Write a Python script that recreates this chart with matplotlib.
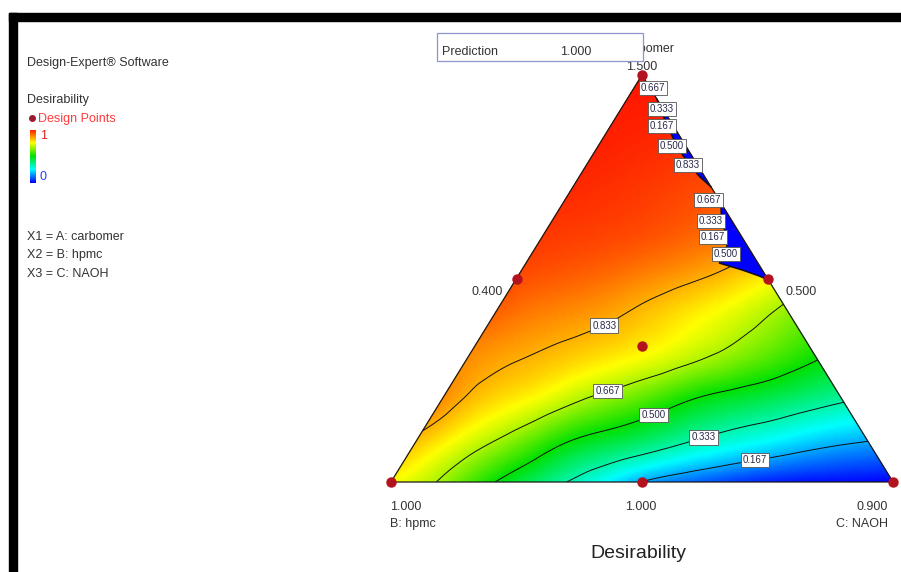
import numpy as np
import matplotlib
matplotlib.use('Agg')
import matplotlib.pyplot as plt
import matplotlib.tri as mtri
from matplotlib.colors import LinearSegmentedColormap
from matplotlib.patches import Rectangle
from matplotlib.lines import Line2D

plt.rcParams['font.family'] = ['Liberation Sans', 'DejaVu Sans']

# desirability, one row per carbomer level (pseudo units 0..1)
# inside a row the NAOH share goes 0, 0.1, 0.2 ... and hpmc is the rest
carbomer = [0.0, 0.1, 0.2, 0.3, 0.4, 0.5, 0.6, 0.7, 0.8, 0.9, 1.0]
desir_rows = [
    [0.75, 0.655, 0.51, 0.39, 0.28, 0.165, 0.10, 0.05, 0.02, 0.01, 0.0],
    [0.815, 0.72, 0.62, 0.505, 0.435, 0.367, 0.30, 0.25, 0.20, 0.167],
    [0.87, 0.79, 0.73, 0.65, 0.58, 0.495, 0.44, 0.39, 0.34],
    [0.87, 0.835, 0.80, 0.76, 0.71, 0.645, 0.575, 0.50],
    [0.91, 0.875, 0.85, 0.81, 0.76, 0.70, 0.62],
    [0.94, 0.92, 0.895, 0.86, 0.82, 0.76],
    [0.96, 0.95, 0.935, 0.91, 0.87],
    [0.975, 0.965, 0.95, 0.93],
    [0.985, 0.975, 0.96],
    [0.99, 0.985],
    [1.0],
]

# design points (A carbomer, C NAOH), simplex centroid
dp_a = [1.0, 0.0, 0.0, 0.5, 0.5, 0.0, 1 / 3]
dp_c = [0.0, 0.0, 1.0, 0.0, 0.5, 0.5, 1 / 3]

# zero-desirability slivers on the A-C edge: carbomer level and depth in from the edge
strip1_a = [0.94, 0.90, 0.86, 0.82, 0.78, 0.75, 0.725]
strip1_w = [0.0, 0.008, 0.014, 0.018, 0.016, 0.010, 0.0]
strip2_a = [0.686, 0.656, 0.619, 0.582, 0.550, 0.538, 0.521, 0.506, 0.496]
strip2_w = [0.0, 0.014, 0.026, 0.039, 0.066, 0.077, 0.040, 0.013, 0.0]

contour_levels = [0.167, 0.333, 0.500, 0.667, 0.833]
label_pos = [(0.422, 0.391), (0.426, 0.243), (0.520, 0.174), (0.620, 0.120), (0.723, 0.069)]

# crowded labels along the edge
edge_labels = ['0.667', '0.333', '0.167', '0.500', '0.833', '0.667', '0.333', '0.167', '0.500']
edge_lab_xy = [(0.522, 0.968), (0.540, 0.916), (0.540, 0.875), (0.560, 0.826), (0.592, 0.779),
               (0.633, 0.693), (0.637, 0.641), (0.641, 0.602), (0.667, 0.560)]

W, H = 901, 572
def fx(px): return px / W
def fy(py): return 1 - py / H

cmap = LinearSegmentedColormap.from_list(
    'desir', ['#0000ff', '#00ffff', '#00e000', '#ffff00', '#ff1500'])
lab_box = dict(boxstyle='square,pad=0.22', fc='white', ec='#555555', lw=0.6)

fig = plt.figure(figsize=(W / 100, H / 100), dpi=100)
ax = fig.add_axes([fx(391), fy(482), 502 / W, 407 / H])
ax.set_xlim(0, 1)
ax.set_ylim(0, 1)
ax.axis('off')

# ternary -> plot coords: x = C + A/2, y = A
xs, ys, zs = [], [], []
for a, row in zip(carbomer, desir_rows):
    for k, d in enumerate(row):
        xs.append(k * 0.1 + a / 2)
        ys.append(a)
        zs.append(d)
tri = mtri.Triangulation(xs, ys)
tri_f, z_f = mtri.UniformTriRefiner(tri).refine_field(np.array(zs), subdiv=4)
z_f = np.clip(z_f, 0, 1)

ax.tripcolor(tri_f, z_f, cmap=cmap, vmin=0, vmax=1, shading='gouraud', zorder=1)
cs = ax.tricontour(tri_f, z_f, levels=contour_levels, colors='#111111', linewidths=0.7, zorder=2)
labs = ax.clabel(cs, fmt='%.3f', fontsize=7, manual=label_pos, inline=False)
for t in labs:
    t.set_rotation(0)
    t.set_color('#2a2a4a')
    t.set_zorder(5)
    t.set_bbox(lab_box)

for sa, sw in [(strip1_a, strip1_w), (strip2_a, strip2_w)]:
    sa = np.array(sa)
    edge = 1 - sa / 2
    inner = edge - np.array(sw)
    ax.fill_betweenx(sa, inner, edge, color='#0000ff', lw=0, zorder=3)
    ax.plot(inner, sa, color='#111111', lw=1.1, zorder=3)

for s, (x, y) in zip(edge_labels, edge_lab_xy):
    ax.text(x, y, s, fontsize=7, color='#2a2a4a', ha='center', va='center', zorder=5,
            bbox=lab_box)

ax.plot([0, 1, 0.5, 0], [0, 0, 1, 0], color='#1a1a1a', lw=0.9, clip_on=False, zorder=4)
ax.plot(np.array(dp_c) + np.array(dp_a) / 2, dp_a, 'o', ms=6.5, color='#b3121f',
        clip_on=False, zorder=6)

# left panel
txt = dict(fontsize=9, color='#333333')
fig.text(fx(27), fy(66), 'Design-Expert® Software', **txt)
fig.text(fx(27), fy(103), 'Desirability', **txt)
fig.add_artist(Line2D([fx(32)], [fy(118)], marker='o', ms=4, color='#9b1b30',
                      transform=fig.transFigure))
fig.text(fx(38), fy(122), 'Design Points', fontsize=9, color='#ff3b3b')
cax = fig.add_axes([fx(30), fy(183), 6 / W, 53 / H])
cax.imshow(np.linspace(1, 0, 64)[:, None], cmap=cmap, aspect='auto')
cax.axis('off')
fig.text(fx(40), fy(136), '1', fontsize=9, color='#e02020', va='center')
fig.text(fx(40), fy(177), '0', fontsize=9, color='#2040ff', va='center')
fig.text(fx(27), fy(240), 'X1 = A: carbomer', **txt)
fig.text(fx(27), fy(258), 'X2 = B: hpmc', **txt)
fig.text(fx(27), fy(277), 'X3 = C: NAOH', **txt)

# vertex / edge labels
fig.text(fx(674), fy(52), 'A: carbomer', ha='right', zorder=4, **txt)
fig.text(fx(642), fy(70), '1.500', ha='center', **txt)
fig.text(fx(503), fy(295), '0.400', ha='right', **txt)
fig.text(fx(785), fy(295), '0.500', ha='left', **txt)
fig.text(fx(390), fy(510), '1.000', ha='left', **txt)
fig.text(fx(390), fy(527), 'B: hpmc', ha='left', **txt)
fig.text(fx(641), fy(510), '1.000', ha='center', **txt)
fig.text(fx(888), fy(510), '0.900', ha='right', **txt)
fig.text(fx(888), fy(527), 'C: NAOH', ha='right', **txt)
fig.text(fx(638), fy(558), 'Desirability', ha='center', fontsize=14, color='#222222')

# prediction box over the top label
fig.add_artist(Rectangle((fx(437), fy(61)), 206 / W, 28 / H, transform=fig.transFigure,
                         fc='white', ec='#8c96c8', lw=0.9, zorder=5))
fig.text(fx(442), fy(55), 'Prediction', zorder=6, **txt)
fig.text(fx(560), fy(55), '1.000', zorder=6, **txt)

# heavy frame
fig.add_artist(Rectangle((fx(9), fy(21)), 1 - fx(9), 8 / H, transform=fig.transFigure,
                         color='black', zorder=10))
fig.add_artist(Rectangle((fx(9), 0), 8 / W, fy(13), transform=fig.transFigure,
                         color='black', zorder=10))

fig.savefig('out.png', dpi=100)
